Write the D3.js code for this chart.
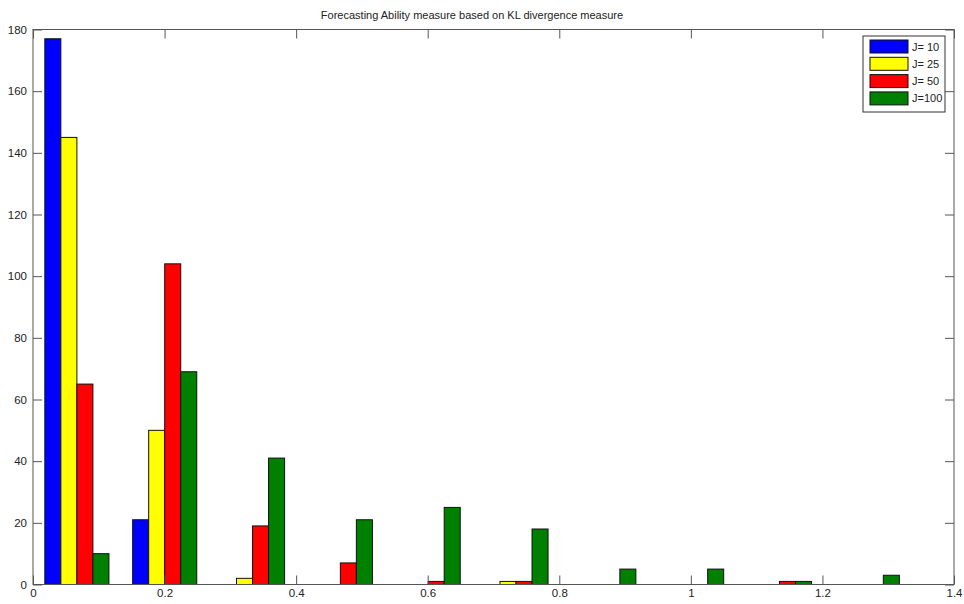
<!DOCTYPE html>
<html>
<head>
<meta charset="utf-8">
<script src="https://cdn.jsdelivr.net/npm/d3@7"></script>
<style>
  html, body { margin: 0; padding: 0; background: #fff; }
  svg text { font-family: "Liberation Sans", Arial, sans-serif; fill: #222; }
</style>
</head>
<body>
<svg id="chart" width="964" height="604"></svg>
<script>
// Histogram bin centres (KL divergence value)
const binCenters = [0.0667, 0.2002, 0.3337, 0.4672, 0.6007, 0.7342, 0.8677, 1.0012, 1.1347, 1.2682];
// Counts per bin for each J
const seriesNames = ["J= 10", "J= 25", "J= 50", "J=100"];
const countsJ10  = [177, 21, 0, 0, 0, 0, 0, 0, 0, 0];
const countsJ25  = [145, 50, 2, 0, 0, 1, 0, 0, 0, 0];
const countsJ50  = [65, 104, 19, 7, 1, 1, 0, 0, 1, 0];
const countsJ100 = [10, 69, 41, 21, 25, 18, 5, 5, 1, 3];
const seriesColors = ["#0000ff", "#ffff00", "#ff0000", "#008000"];
const xTicks = [0, 0.2, 0.4, 0.6, 0.8, 1, 1.2, 1.4];
const yTicks = [0, 20, 40, 60, 80, 100, 120, 140, 160, 180];
const titleText = "Forecasting Ability measure based on KL divergence measure";

const series = [countsJ10, countsJ25, countsJ50, countsJ100];

const svg = d3.select("#chart");
const plotLeft = 33, plotRight = 954, plotTop = 29.5, plotBottom = 584.5;
const tickLen = 9;

const x = d3.scaleLinear().domain([0, 1.4]).range([plotLeft, plotRight]);
const y = d3.scaleLinear().domain([0, 180]).range([plotBottom, plotTop]);

// bar geometry: four bars share ~73% of the bin spacing
const spacingPx = x(binCenters[1]) - x(binCenters[0]);
const barW = spacingPx * 0.73 / series.length;

// bars
const gBars = svg.append("g");
series.forEach((vals, si) => {
  gBars.selectAll(null)
    .data(vals.map((v, i) => ({ v, c: binCenters[i] })).filter(d => d.v > 0))
    .enter().append("rect")
    .attr("x", d => x(d.c) + (si - series.length / 2) * barW)
    .attr("y", d => y(d.v))
    .attr("width", barW)
    .attr("height", d => y(0) - y(d.v))
    .attr("fill", seriesColors[si])
    .attr("stroke", "#111")
    .attr("stroke-width", 1);
});

// axes (box with inward ticks on all sides)
const axisColor = "#555";
svg.append("rect")
  .attr("x", plotLeft).attr("y", plotTop)
  .attr("width", plotRight - plotLeft).attr("height", plotBottom - plotTop)
  .attr("fill", "none").attr("stroke", axisColor).attr("stroke-width", 1);

const bottomAxis = d3.axisBottom(x).tickValues(xTicks).tickSizeInner(-tickLen).tickSizeOuter(0)
  .tickPadding(4).tickFormat(d3.format("~g"));
const topAxis = d3.axisTop(x).tickValues(xTicks).tickSizeInner(-tickLen).tickSizeOuter(0).tickFormat("");
const leftAxis = d3.axisLeft(y).tickValues(yTicks).tickSizeInner(-tickLen).tickSizeOuter(0)
  .tickPadding(6);
const rightAxis = d3.axisRight(y).tickValues(yTicks).tickSizeInner(-tickLen).tickSizeOuter(0).tickFormat("");

function styleAxis(g) {
  g.select(".domain").remove();
  g.selectAll(".tick line").attr("stroke", axisColor);
  g.selectAll(".tick text").attr("font-size", 11.5).attr("fill", "#222")
    .attr("font-family", "Liberation Sans, Arial, sans-serif");
}
svg.append("g").attr("transform", `translate(0,${plotBottom})`).call(bottomAxis).call(styleAxis);
svg.append("g").attr("transform", `translate(0,${plotTop})`).call(topAxis).call(styleAxis);
svg.append("g").attr("transform", `translate(${plotLeft},0)`).call(leftAxis).call(styleAxis);
svg.append("g").attr("transform", `translate(${plotRight},0)`).call(rightAxis).call(styleAxis);

// title
svg.append("text")
  .attr("x", 472).attr("y", 19)
  .attr("text-anchor", "middle")
  .attr("font-size", 11)
  .text(titleText);

// legend
const lg = svg.append("g").attr("transform", "translate(863,36)");
lg.append("rect").attr("width", 82).attr("height", 76)
  .attr("fill", "#fff").attr("stroke", "#333").attr("stroke-width", 1);
seriesNames.forEach((name, i) => {
  const cy = 10.5 + i * 17.3;
  lg.append("rect").attr("x", 7).attr("y", cy - 6.5).attr("width", 38).attr("height", 13)
    .attr("fill", seriesColors[i]).attr("stroke", "#111");
  lg.append("text").attr("x", 49).attr("y", cy + 4).attr("font-size", 11).text(name);
});
</script>
</body>
</html>
